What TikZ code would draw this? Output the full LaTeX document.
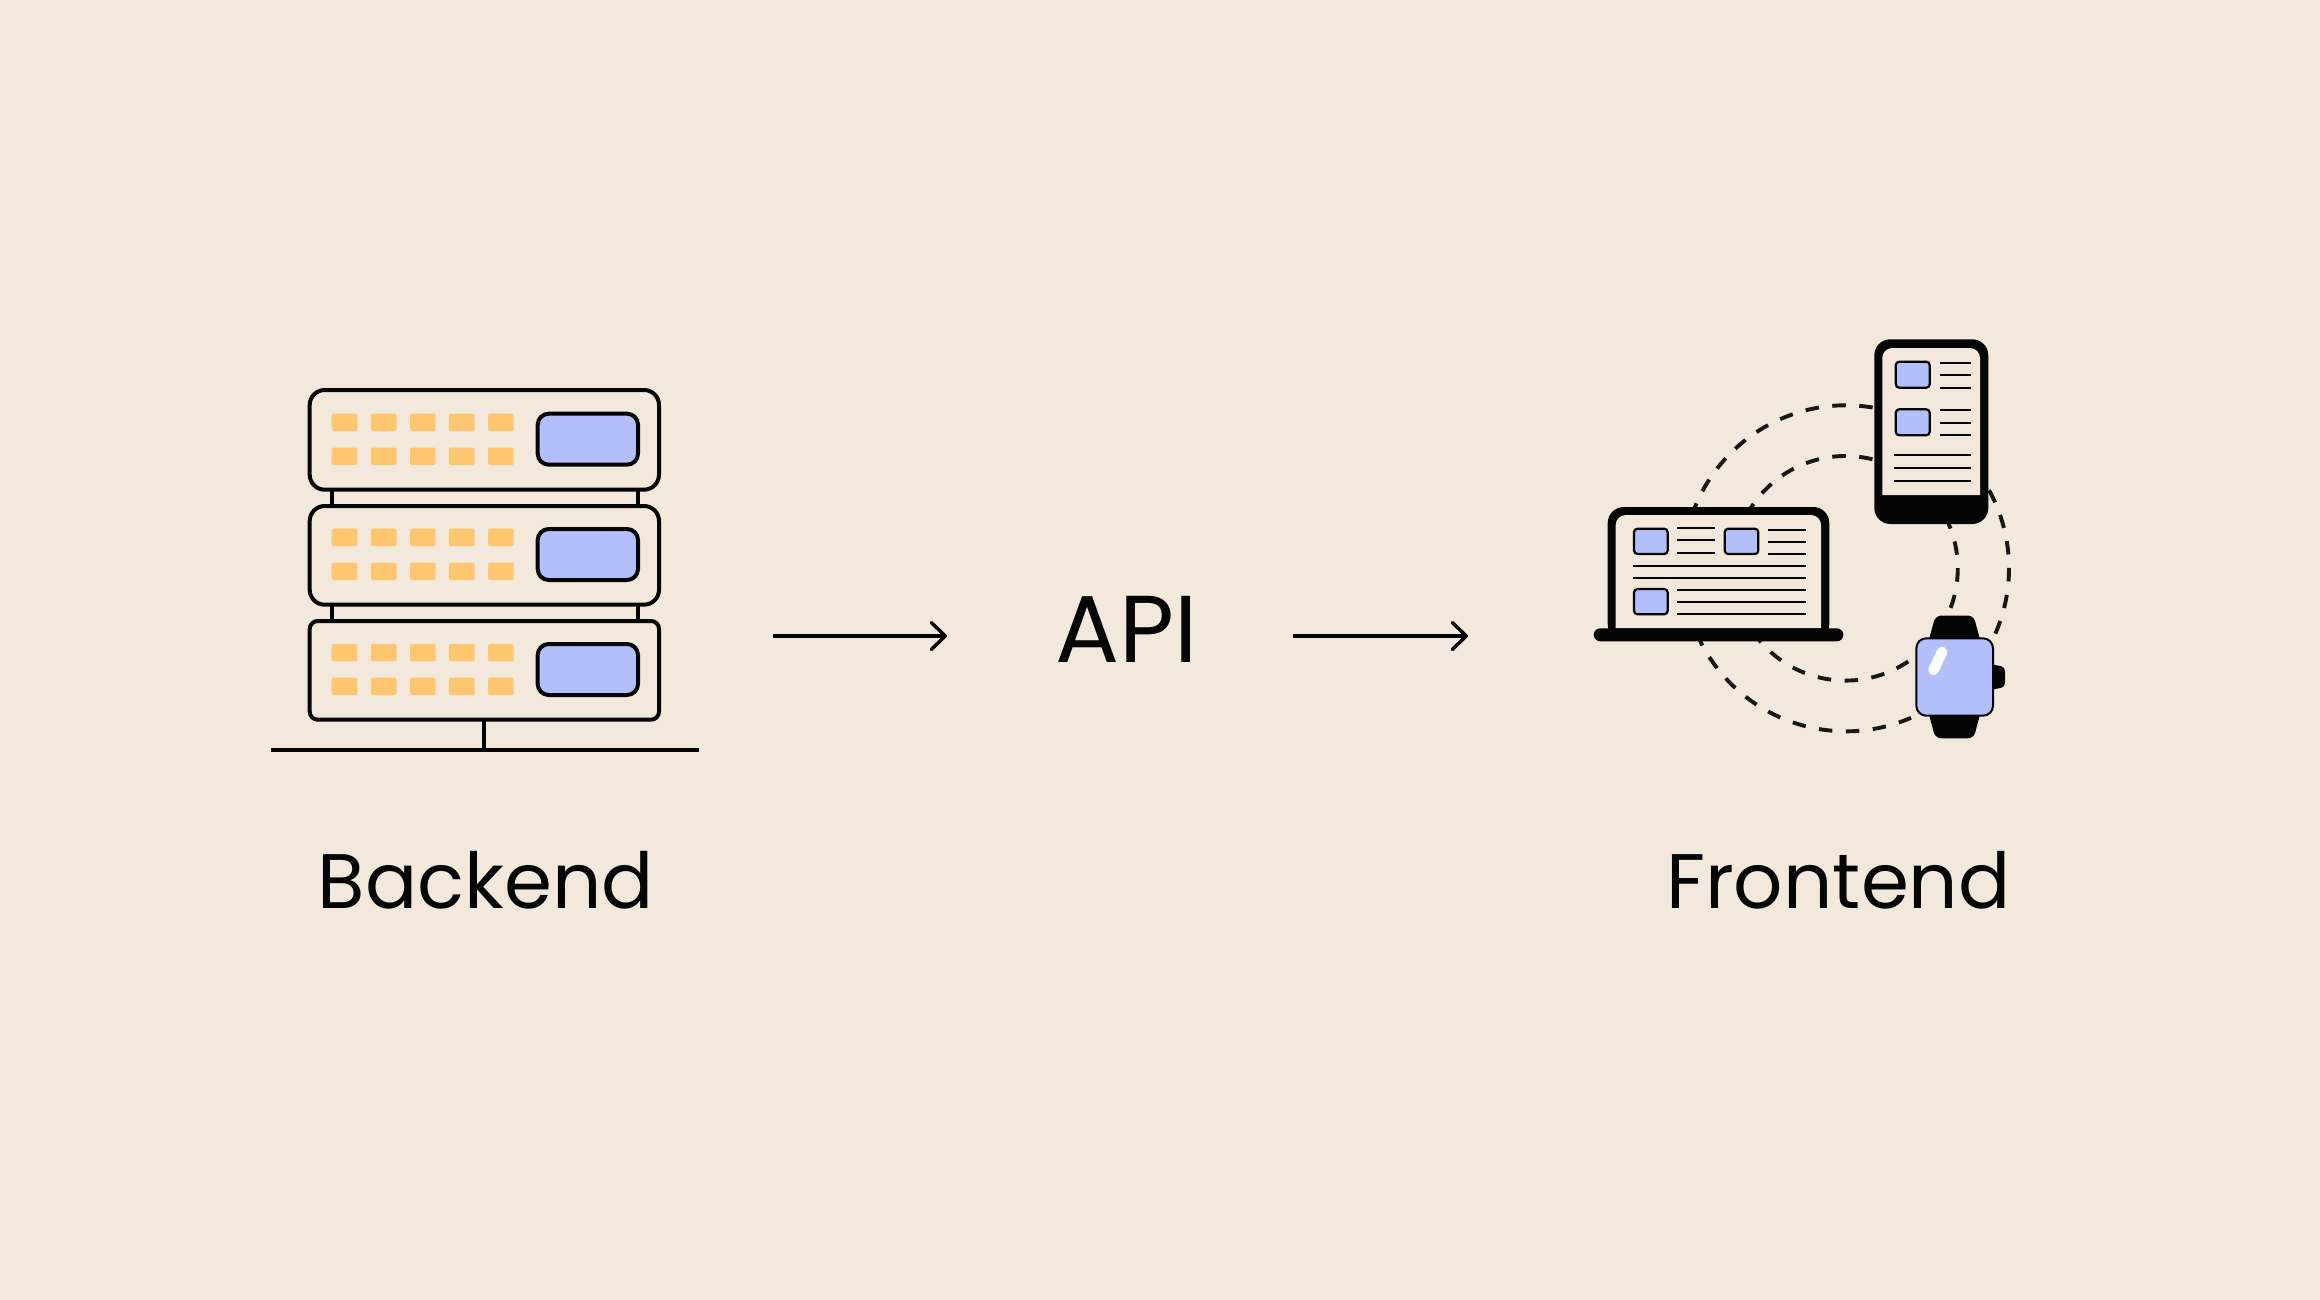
\documentclass[tikz,border=0pt]{standalone}
\usepackage{fontspec}
\setmainfont{Poppins}
\usetikzlibrary{arrows.meta}
\definecolor{bgc}{HTML}{F2E8DC}
\definecolor{orangec}{HTML}{FFC670}
\definecolor{bluec}{HTML}{B2BFFA}
\definecolor{inkc}{HTML}{050505}
\tikzset{
  x=1pt,y=-1pt,
  rack/.style={draw=inkc,line width=4pt,fill=bgc},
  rackline/.style={draw=inkc,line width=3.8pt},
  led/.style={fill=orangec,rounded corners=1.5pt},
  display/.style={draw=inkc,line width=4pt,fill=bluec,rounded corners=11pt},
  thumb/.style={draw=inkc,line width=2.2pt,fill=bluec,rounded corners=3.5pt},
  textline/.style={draw=inkc,line width=2pt},
  orbit/.style={draw=inkc!92!bgc,line width=3.9pt,dash pattern=on 13.5pt off 13.5pt},
  flow/.style={draw=inkc,line width=3.5pt,-{Straight Barb[length=14pt,width=27pt,round,line width=3.5pt]}},
  caption/.style={inner sep=0pt,anchor=base,text=inkc,font=\fontsize{77.3}{80}\selectfont},
  bigcaption/.style={caption,font=\fontsize{95}{100}\selectfont},
}
\begin{document}
\begin{tikzpicture}
\useasboundingbox (0,0) rectangle (2320,1300);
\fill[bgc] (0,0) rectangle (2320,1300);

% --- backend: server rack
\draw[rackline] (332,490) -- (332,506) (638,490) -- (638,506)
                (332,604) -- (332,621) (638,604) -- (638,621);
\draw[rackline] (484.3,719) -- (484.3,750);
\draw[rackline] (271.3,750) -- (698.7,750);
\draw[rack,rounded corners=15pt] (309.7,390) rectangle (659,489.7);
\draw[rack,rounded corners=15pt] (309.7,506) rectangle (659,604.7);
\draw[rack,rounded corners=8pt] (309.7,621) rectangle (659,719.7);
\foreach \rowa/\rowb/\dy in {413.7/447.7/0,528.7/562.7/1,644/677.7/2}{
  \foreach \xa in {331.7,370.9,410,449,488}{
    \fill[led] (\xa,\rowa) rectangle ++(25.7,17.4);
    \fill[led] (\xa,\rowb) rectangle ++(25.7,17.4);
  }
}
\draw[display] (537.7,413.7) rectangle (638,464.7);
\draw[display] (537.7,529) rectangle (638,580);
\draw[display] (537.7,644) rectangle (638,695);

% --- frontend: orbits, behind the devices
\coordinate (co) at (1846,568.3);
\coordinate (ci) at (1845.5,568.3);
\draw[orbit] (co) ++(80.6:163pt) arc[start angle=80.6,end angle=165,radius=163pt];
\draw[orbit] (co) ++(203.5:163pt) arc[start angle=203.5,end angle=293.5,radius=163pt];
\draw[orbit] (co) ++(28.6:163pt) arc[start angle=28.6,end angle=-23.8,radius=163pt];
\draw[orbit] (ci) ++(76.1:112.3pt) arc[start angle=76.1,end angle=150,radius=112.3pt];
\draw[orbit] (ci) ++(27.6:112.3pt) arc[start angle=27.6,end angle=-20.8,radius=112.3pt];
\draw[orbit] (ci) ++(214.4:112.3pt) arc[start angle=214.4,end angle=304.6,radius=112.3pt];

% --- phone
\fill[inkc,rounded corners=16pt] (1874.3,339.3) rectangle (1988.3,524);
\fill[bgc] (1882.3,495) [rounded corners=10pt]-- (1882.3,348) -- (1980,348) [sharp corners]-- (1980,495) -- cycle;
\draw[thumb] (1895.7,361.7) rectangle (1929.7,387.7);
\draw[thumb] (1895.7,409.3) rectangle (1929.7,435.3);
\foreach \yy in {362.7,375.3,388,410.3,423,435.3}{
  \draw[textline] (1939.7,\yy) -- (1971.3,\yy);
}
\foreach \yy in {455.3,468,480.7}{
  \draw[textline] (1894.3,\yy) -- (1971.3,\yy);
}

% --- laptop
\fill[inkc,rounded corners=16pt] (1607.7,507) -- (1829.3,507) -- (1829.3,640) -- (1607.7,640) -- cycle;
\fill[bgc] (1615.7,628.3) [rounded corners=10pt]-- (1615.7,515) -- (1821,515) [sharp corners]-- (1821,628.3) -- cycle;
\fill[inkc,rounded corners=6.5pt] (1593.7,628.3) rectangle (1843.3,641.3);
\draw[thumb] (1634,528.7) rectangle (1667.7,554);
\draw[thumb] (1724.7,528.7) rectangle (1758.3,554);
\draw[thumb] (1634,589) rectangle (1667.7,614.3);
\foreach \yy in {528,540.3,552.7}{
  \draw[textline] (1677.3,\yy) -- (1715,\yy);
}
\foreach \yy in {529.7,541.7,554}{
  \draw[textline] (1768,\yy) -- (1805.7,\yy);
}
\foreach \yy in {565.7,577.7}{
  \draw[textline] (1633,\yy) -- (1805.7,\yy);
}
\foreach \yy in {590,602,614}{
  \draw[textline] (1677.3,\yy) -- (1805.7,\yy);
}

% --- watch
\fill[inkc] (1928.3,642) -- (1934,621) .. controls (1935.5,617.5) and (1938,615.5) .. (1942,615.5)
  -- (1967,615.5) .. controls (1971,615.5) and (1973.5,617.5) .. (1975,621) -- (1980.7,642) -- cycle;
\fill[inkc] (1928.3,712) -- (1934,733) .. controls (1935.5,736.5) and (1938,738.4) .. (1942,738.4)
  -- (1967,738.4) .. controls (1971,738.4) and (1973.5,736.5) .. (1975,733) -- (1980.7,712) -- cycle;
\fill[inkc,rounded corners=4pt] (1988,663.5) -- (2005,667) -- (2005,687) -- (1988,690.5) -- cycle;
\draw[inkc,line width=2pt,fill=bluec,rounded corners=10pt] (1916.3,638.3) rectangle (1993,715.7);
\draw[white,line width=10.5pt,line cap=round] (1933.5,670) -- (1942,652);

% --- labels and connectors
\node[caption] (backend) at (486,908.5) {Backend};
\node[bigcaption] (api) at (1127,662.7) {API};
\node[caption] (frontend) at (1838.4,908.5) {Frontend};
\coordinate (outA) at (772.9,636);
\coordinate (inA) at (947,636);
\coordinate (outB) at (1292.6,636);
\coordinate (inB) at (1468,636);
\draw[flow] (outA) -- (inA);
\draw[flow] (outB) -- (inB);
\end{tikzpicture}
\end{document}
